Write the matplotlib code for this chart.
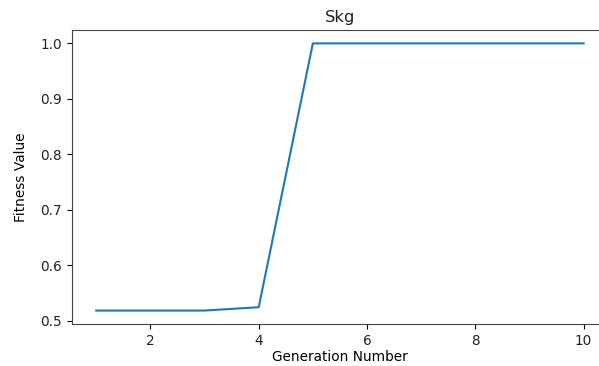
import matplotlib
matplotlib.use("Agg")
import matplotlib.pyplot as plt

generations = [1, 2, 3, 4, 5, 6, 7, 8, 9, 10]
fitness = [0.518, 0.518, 0.518, 0.524, 1.0, 1.0, 1.0, 1.0, 1.0, 1.0]

plt.rcParams['font.size'] = 9.8
plt.rcParams['text.color'] = '#222222'
plt.rcParams['xtick.labelcolor'] = '#222222'
plt.rcParams['ytick.labelcolor'] = '#222222'
fig = plt.figure(figsize=(5.99, 3.66), dpi=100)
ax = fig.add_axes([0.120, 0.115, 0.895, 0.803])
ax.plot(generations, fitness)
ax.set_xlabel('Generation Number', labelpad=2)
ax.set_ylabel('Fitness Value', labelpad=9)
ax.set_title('Skg')
for s in ax.spines.values():
    s.set_color('#444444')
fig.savefig('out.png', dpi=100)
